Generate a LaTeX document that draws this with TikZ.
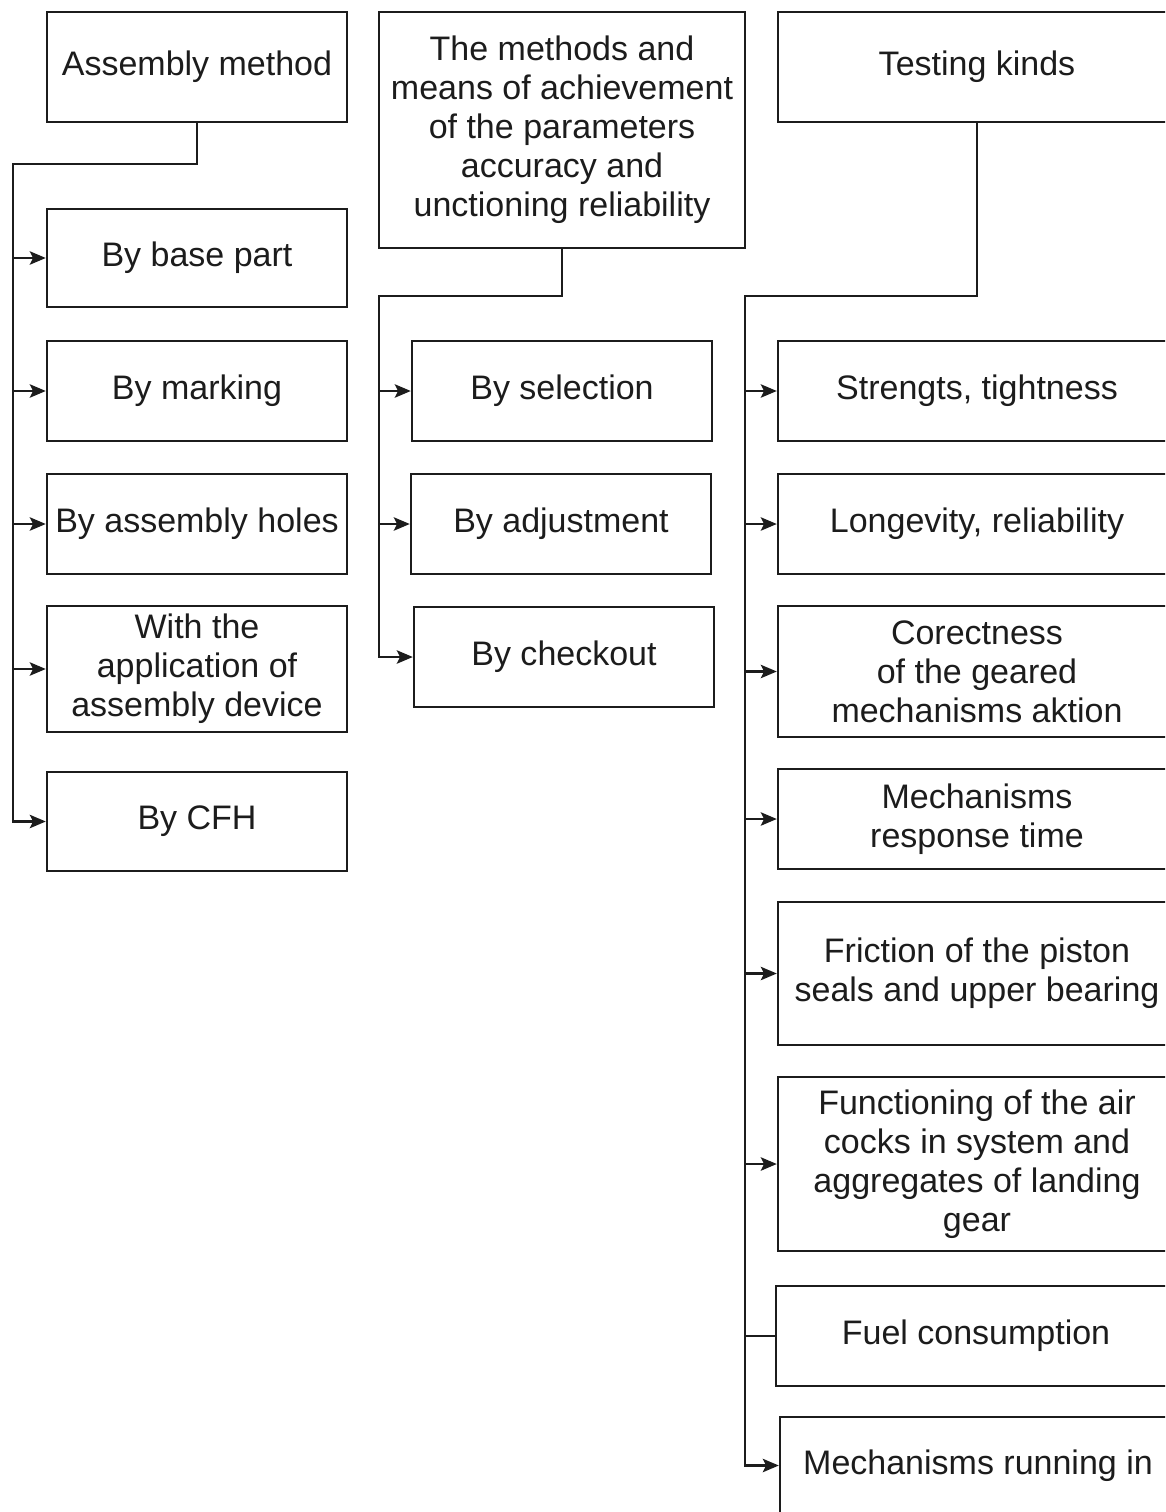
\documentclass[tikz,border=0pt]{standalone}
\usepackage{fontspec}
\setmainfont{Liberation Sans}
\usetikzlibrary{arrows.meta}
\definecolor{ink}{HTML}{1C1C1C}
\tikzset{
  box/.style={draw=ink, line width=1.8pt, inner sep=0pt, align=center, text=ink,
    font={\fontsize{25.5pt}{29.25pt}\selectfont}},
  link/.style={draw=ink, line width=1.9pt},
  arr/.style={link, -{Stealth[length=12pt, width=10pt, inset=2.5pt]}},
}
% #1 name, #2 x1, #3 y1, #4 x2, #5 y2, #6 text  (pixel coordinates)
\newcommand\pbox[6]{%
  \node[box, minimum width={(#4-#2)*0.75pt}, minimum height={(#5-#3)*0.75pt}]
    (#1) at ({(#2+#4)/2},{(#3+#5)/2}) {#6};}
\begin{document}
\begin{tikzpicture}[x=0.75pt, y=-0.75pt]
\useasboundingbox (0,0) rectangle (1165,1512);
\fill[white] (0,0) rectangle (1165,1512);
\clip (0,0) rectangle (1165,1512);

% left column
\pbox{asm}{47}{12}{347}{122}{Assembly method}
\pbox{bbp}{47}{209}{347}{307}{By base part}
\pbox{bmk}{47}{341}{347}{441}{By marking}
\pbox{bah}{47}{474}{347}{574}{By assembly holes}
\pbox{wap}{47}{606}{347}{732}{With the\\application of\\assembly device}
\pbox{cfh}{47}{772}{347}{871}{By CFH}

% middle column
\pbox{mth}{379}{12}{745}{248}{The methods and\\means of achievement\\of the parameters\\accuracy and\\unctioning reliability}
\pbox{sel}{412}{341}{712}{441}{By selection}
\pbox{adj}{411}{474}{711}{574}{By adjustment}
\pbox{chk}{414}{607}{714}{707}{By checkout}

% right column
\pbox{tst}{778}{12}{1176}{122}{Testing kinds}
\pbox{str}{778}{341}{1176}{441}{Strengts, tightness}
\pbox{lng}{778}{474}{1176}{574}{Longevity, reliability}
\pbox{cor}{778}{606}{1176}{737}{Corectness\\of the geared\\mechanisms aktion}
\pbox{rsp}{778}{769}{1176}{869}{Mechanisms\\response time}
\pbox{fri}{778}{902}{1176}{1045}{Friction of the piston\\seals and upper bearing}
\pbox{fun}{778}{1077}{1176}{1251}{Functioning of the air\\cocks in system and\\aggregates of landing\\gear}
\pbox{fue}{776}{1286}{1176}{1386}{Fuel consumption}
\pbox{run}{780}{1417}{1176}{1514}{Mechanisms running in}

% left connectors
\coordinate (L1) at (13,164);
\draw[arr] (asm.south) |- (L1) |- (cfh.west);
\foreach \b in {bbp,bmk,bah,wap}
  \draw[arr] (L1 |- \b.west) -- (\b.west);

% middle connectors
\coordinate (M1) at (379,296);
\draw[arr] (mth.south) |- (M1) |- (chk.west);
\foreach \b in {sel,adj}
  \draw[arr] (M1 |- \b.west) -- (\b.west);

% right connectors
\coordinate (R1) at (745,296);
\draw[arr] (tst.south) |- (R1) |- (run.west);
\foreach \b in {str,lng,cor,rsp,fri,fun}
  \draw[arr] (R1 |- \b.west) -- (\b.west);
\draw[link] (R1 |- fue.west) -- (fue.west);
\end{tikzpicture}
\end{document}
